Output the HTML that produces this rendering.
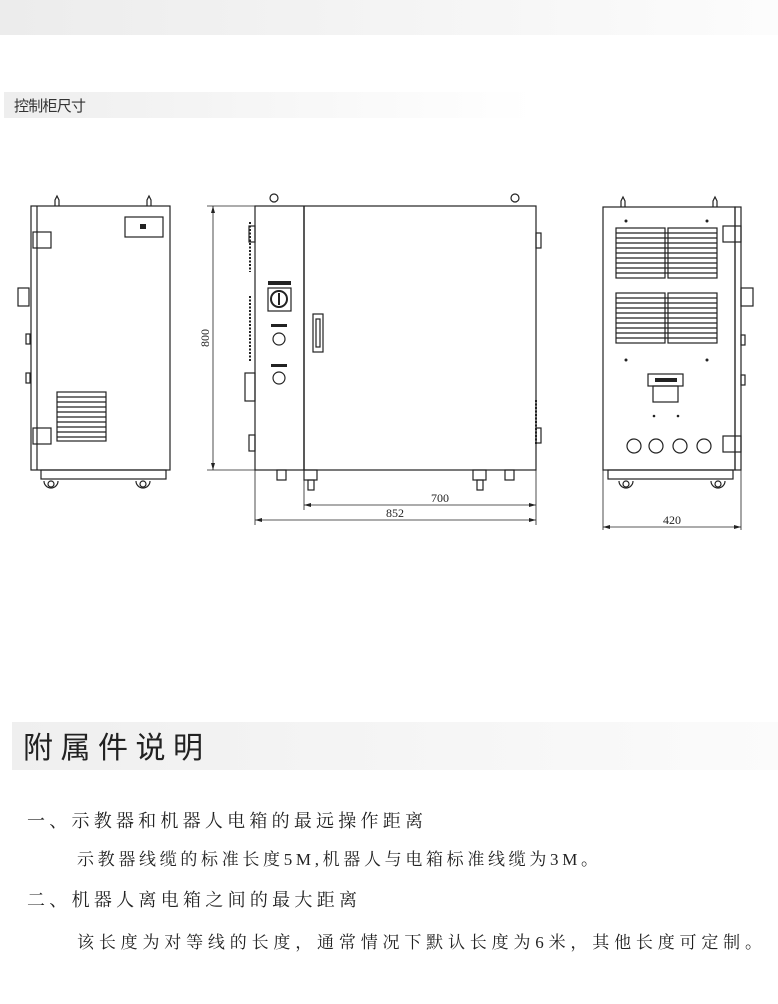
<!DOCTYPE html>
<html><head><meta charset="utf-8"><style>
html,body{margin:0;padding:0;background:#fff;width:778px;height:1004px;overflow:hidden}
</style></head><body>
<svg width="778" height="1004" viewBox="0 0 778 1004" xmlns="http://www.w3.org/2000/svg">
<defs>
<linearGradient id="g1" x1="0" x2="1"><stop offset="0" stop-color="#ececec"/><stop offset="1" stop-color="#fcfcfc"/></linearGradient>
<linearGradient id="g2" x1="0" x2="1"><stop offset="0" stop-color="#eeeeee"/><stop offset="1" stop-color="#ffffff"/></linearGradient>
<linearGradient id="g3" x1="0" x2="1"><stop offset="0" stop-color="#efefef"/><stop offset="1" stop-color="#fbfbfb"/></linearGradient>
</defs>
<rect x="0" y="0" width="778" height="35" fill="url(#g1)"/>
<rect x="4" y="92" width="530" height="26" fill="url(#g2)"/>
<text x="14" y="111" font-family="Liberation Sans,Noto Sans CJK SC,sans-serif" font-size="15" fill="#333" textLength="72">控制柜尺寸</text>
<rect x="12" y="722" width="766" height="48" fill="url(#g3)"/>
<text x="23" y="758" font-family="Liberation Sans,Noto Sans CJK SC,sans-serif" font-size="30" fill="#222" textLength="180">附属件说明</text>

<g font-family="Liberation Serif,Noto Serif CJK SC,serif" fill="#222">
<text x="27" y="827" font-size="18" textLength="396">一、示教器和机器人电箱的最远操作距离</text>
<text x="77" y="865" font-size="17" textLength="521">示教器线缆的标准长度5M,机器人与电箱标准线缆为3M。</text>
<text x="27" y="906" font-size="18" textLength="330">二、机器人离电箱之间的最大距离</text>
<text x="77" y="948" font-size="17" textLength="685">该长度为对等线的长度，通常情况下默认长度为6米，其他长度可定制。</text>
</g>

<g fill="none" stroke="#222" stroke-width="1.2">
<!-- LEFT VIEW -->
<rect x="31" y="206" width="139" height="264"/>
<line x1="37" y1="206" x2="37" y2="470"/>
<rect x="41" y="470" width="125" height="9"/>
<path d="M44 481 a7 7 0 0 0 14 0 M136 481 a7 7 0 0 0 14 0"/>
<circle cx="51" cy="484" r="3"/><circle cx="143" cy="484" r="3"/>
<path d="M55 206 v-6 l2 -4 l2 4 v6 M147 206 v-6 l2 -4 l2 4 v6"/>
<rect x="125" y="217" width="38" height="20"/>
<rect x="33" y="232" width="18" height="16"/><rect x="33" y="428" width="18" height="16"/>
<rect x="18" y="288" width="11" height="18"/><rect x="26" y="334" width="4" height="10"/><rect x="26" y="373" width="4" height="10"/>
<rect x="57" y="392" width="49" height="49"/>
<path d="M57 397h49M57 402h49M57 407h49M57 412h49M57 417h49M57 422h49M57 427h49M57 432h49M57 437h49"/>

<!-- MIDDLE VIEW -->
<rect x="255" y="206" width="281" height="264"/>
<line x1="304" y1="206" x2="304" y2="470" stroke-width="1.5"/>
<circle cx="274" cy="198" r="4"/><circle cx="515" cy="198" r="4"/>
<rect x="268" y="288" width="23" height="23"/><circle cx="279" cy="299" r="8" stroke-width="2"/>
<line x1="279" y1="293" x2="279" y2="305" stroke-width="2"/>
<circle cx="279" cy="339" r="6"/><circle cx="279" cy="378" r="6"/>
<rect x="313" y="314" width="10" height="38"/><rect x="316" y="319" width="4" height="28"/>
<rect x="245" y="373" width="10" height="28"/>
<path d="M250 222 v50 M250 296 v66" stroke-dasharray="2 1.5" stroke-width="2"/>
<path d="M536 400 v45" stroke-dasharray="2 1.5" stroke-width="2"/>
<rect x="249" y="226" width="6" height="16"/><rect x="249" y="435" width="6" height="16"/>
<rect x="536" y="233" width="5" height="15"/><rect x="536" y="428" width="5" height="15"/>
<rect x="277" y="470" width="9" height="10"/><rect x="505" y="470" width="9" height="10"/>
<rect x="304" y="470" width="13" height="10"/><rect x="308" y="480" width="6" height="10"/>
<rect x="473" y="470" width="13" height="10"/><rect x="477" y="480" width="6" height="10"/>
<!-- dims -->
<g stroke-width="0.8">
<path d="M213 206 v264 M207 206 h48 M207 470 h48"/>
<path d="M255 470 v55 M304 480 v30 M536 470 v55"/>
<path d="M304 505 h232 M255 520 h281"/>
<path d="M603 470 v60 M741 470 v60 M603 527 h138"/>
</g>
<!-- RIGHT VIEW -->
<rect x="603" y="207" width="132" height="263"/>
<rect x="735" y="207" width="6" height="263"/>
<rect x="616" y="228" width="49" height="50"/><rect x="668" y="228" width="49" height="50"/>
<rect x="616" y="293" width="49" height="50"/><rect x="668" y="293" width="49" height="50"/>
<path d="M616 233h101M616 238h101M616 243h101M616 248h101M616 253h101M616 258h101M616 263h101M616 268h101M616 273h101"/>
<path d="M616 298h101M616 303h101M616 308h101M616 313h101M616 318h101M616 323h101M616 328h101M616 333h101M616 338h101"/>
<rect x="648" y="374" width="35" height="12"/><rect x="653" y="386" width="25" height="16"/>
<circle cx="634" cy="446" r="7"/><circle cx="656" cy="446" r="7"/><circle cx="680" cy="446" r="7"/><circle cx="704" cy="446" r="7"/>
<rect x="723" y="226" width="18" height="16"/><rect x="723" y="436" width="18" height="16"/>
<rect x="741" y="288" width="12" height="18"/><rect x="741" y="335" width="4" height="10"/><rect x="741" y="375" width="4" height="10"/>
<rect x="608" y="470" width="125" height="9"/>
<path d="M619 481 a7 7 0 0 0 14 0 M711 481 a7 7 0 0 0 14 0"/>
<circle cx="626" cy="484" r="3"/><circle cx="718" cy="484" r="3"/>
<path d="M621 207 v-6 l2 -4 l2 4 v-0 v6 M713 207 v-6 l2 -4 l2 4 v6"/>
</g>
<g fill="#222">
<circle cx="626" cy="221" r="1.5"/><circle cx="707" cy="221" r="1.5"/>
<circle cx="626" cy="360" r="1.5"/><circle cx="707" cy="360" r="1.5"/>
<circle cx="654" cy="416" r="1.3"/><circle cx="678" cy="416" r="1.3"/>
<rect x="140" y="224" width="6" height="5"/>
<rect x="268" y="281" width="23" height="4"/><rect x="271" y="324" width="16" height="3"/><rect x="271" y="364" width="16" height="3"/>
<rect x="655" y="378" width="22" height="4"/>
<path d="M304 505 l7 -2 v4 z M536 505 l-7 -2 v4 z M255 520 l7 -2 v4 z M536 520 l-7 -2 v4 z M603 527 l7 -2 v4z M741 527 l-7 -2 v4z M213 206 l-2 7 h4z M213 470 l-2 -7 h4z"/>
</g>
<g font-family="Liberation Serif,serif" font-size="12" fill="#222" text-anchor="middle">
<text x="440" y="502">700</text>
<text x="395" y="517">852</text>
<text x="672" y="524">420</text>
<text transform="translate(209,338) rotate(-90)">800</text>
</g>
</svg>
</body></html>
